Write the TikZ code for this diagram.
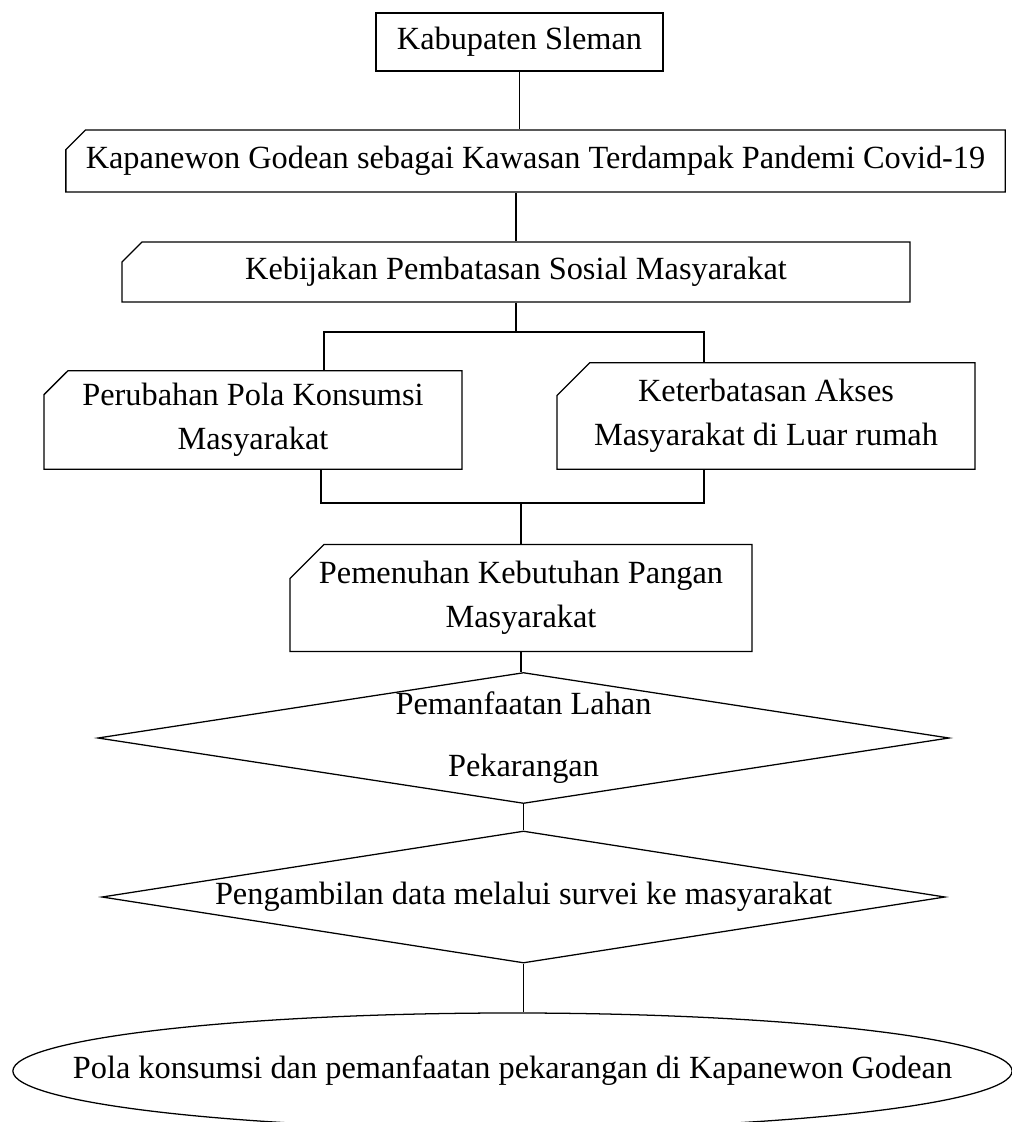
\documentclass[tikz,border=0pt]{standalone}
\usepackage{fontspec}
\setmainfont{Liberation Serif}
\usetikzlibrary{positioning,shapes.geometric,shapes.misc}

\begin{document}
\begin{tikzpicture}[x=0.025cm,y=-0.025cm,line width=0.9pt]
    \tikzset{plainbox/.style={draw,rectangle,inner sep=0pt,align=center,
      font=\fontsize{23pt}{31pt}\selectfont},
      snipbox/.style={plainbox,chamfered rectangle,chamfered rectangle corners=north west},
      choice/.style={plainbox,diamond,shape aspect=6.5},
      outcome/.style={plainbox,ellipse}}
    \useasboundingbox (0,0) rectangle (1011,1122);
    \node[plainbox,line width=1.6pt,minimum width=7.175cm,minimum height=1.45cm] (kab) at (519.5,42) {Kabupaten Sleman};
    \node[snipbox,chamfered rectangle xsep=0.24cm,chamfered rectangle ysep=0.25cm,
      minimum width=23.475cm,minimum height=1.55cm] (godean) at (535.5,161) {Kapanewon Godean sebagai Kawasan Terdampak Pandemi Covid-19};
    \node[snipbox,chamfered rectangle xsep=0.25cm,chamfered rectangle ysep=0.25cm,
      minimum width=19.7cm,minimum height=1.5cm] (policy) at (516,272) {Kebijakan Pembatasan Sosial Masyarakat};
    \node[snipbox,chamfered rectangle xsep=0.28cm,chamfered rectangle ysep=0.32cm,
      minimum width=10.45cm,minimum height=2.4cm] (pattern) at (253,420) {Perubahan Pola Konsumsi\\Masyarakat};
    \node[snipbox,chamfered rectangle xsep=0.4cm,chamfered rectangle ysep=0.42cm,
      minimum width=10.45cm,minimum height=2.4cm] (access) at (766,416) {Keterbatasan Akses\\Masyarakat di Luar rumah};
    \node[snipbox,chamfered rectangle xsep=0.45cm,chamfered rectangle ysep=0.4cm,
      minimum width=11.55cm,minimum height=2.675cm] (food) at (521,598) {Pemenuhan Kebutuhan Pangan\\Masyarakat};
    \node[choice,minimum width=21.075cm,minimum height=3.25cm] (yard) at (523.5,738) {Pemanfaatan Lahan\\[13pt]Pekarangan};
    \node[choice,minimum width=21.075cm,minimum height=3.3cm] (survey) at (523.5,897) {Pengambilan data melalui survei ke masyarakat};
    \node[outcome,minimum width=24.975cm,minimum height=2.9cm] (result) at (512.5,1071)
      {\makebox[0pt]{Pola konsumsi dan pemanfaatan pekarangan di Kapanewon Godean}};
    % branch points
    \coordinate (splitl) at (324,332);
    \coordinate (splitr) at (704,332);
    \coordinate (joinl) at (321,503);
    \coordinate (joinr) at (704,503);
    \draw (kab.south) -- (kab.south |- godean.north);
    \draw (policy.north) -- (policy.north |- godean.south);
    \draw (policy.south) -- (policy.south |- splitl);
    \draw (splitl |- pattern.north) -- (splitl) -- (splitr) -- (splitr |- access.north);
    \draw (joinl |- pattern.south) -- (joinl) -- (joinr) -- (joinr |- access.south);
    \draw (food.north) -- (food.north |- joinl);
    \draw (food.south) -- (food.south |- yard.north);
    \draw (yard.south) -- (survey.north);
    \draw (survey.south) -- (survey.south |- result.north);
  \end{tikzpicture}
\end{document}
